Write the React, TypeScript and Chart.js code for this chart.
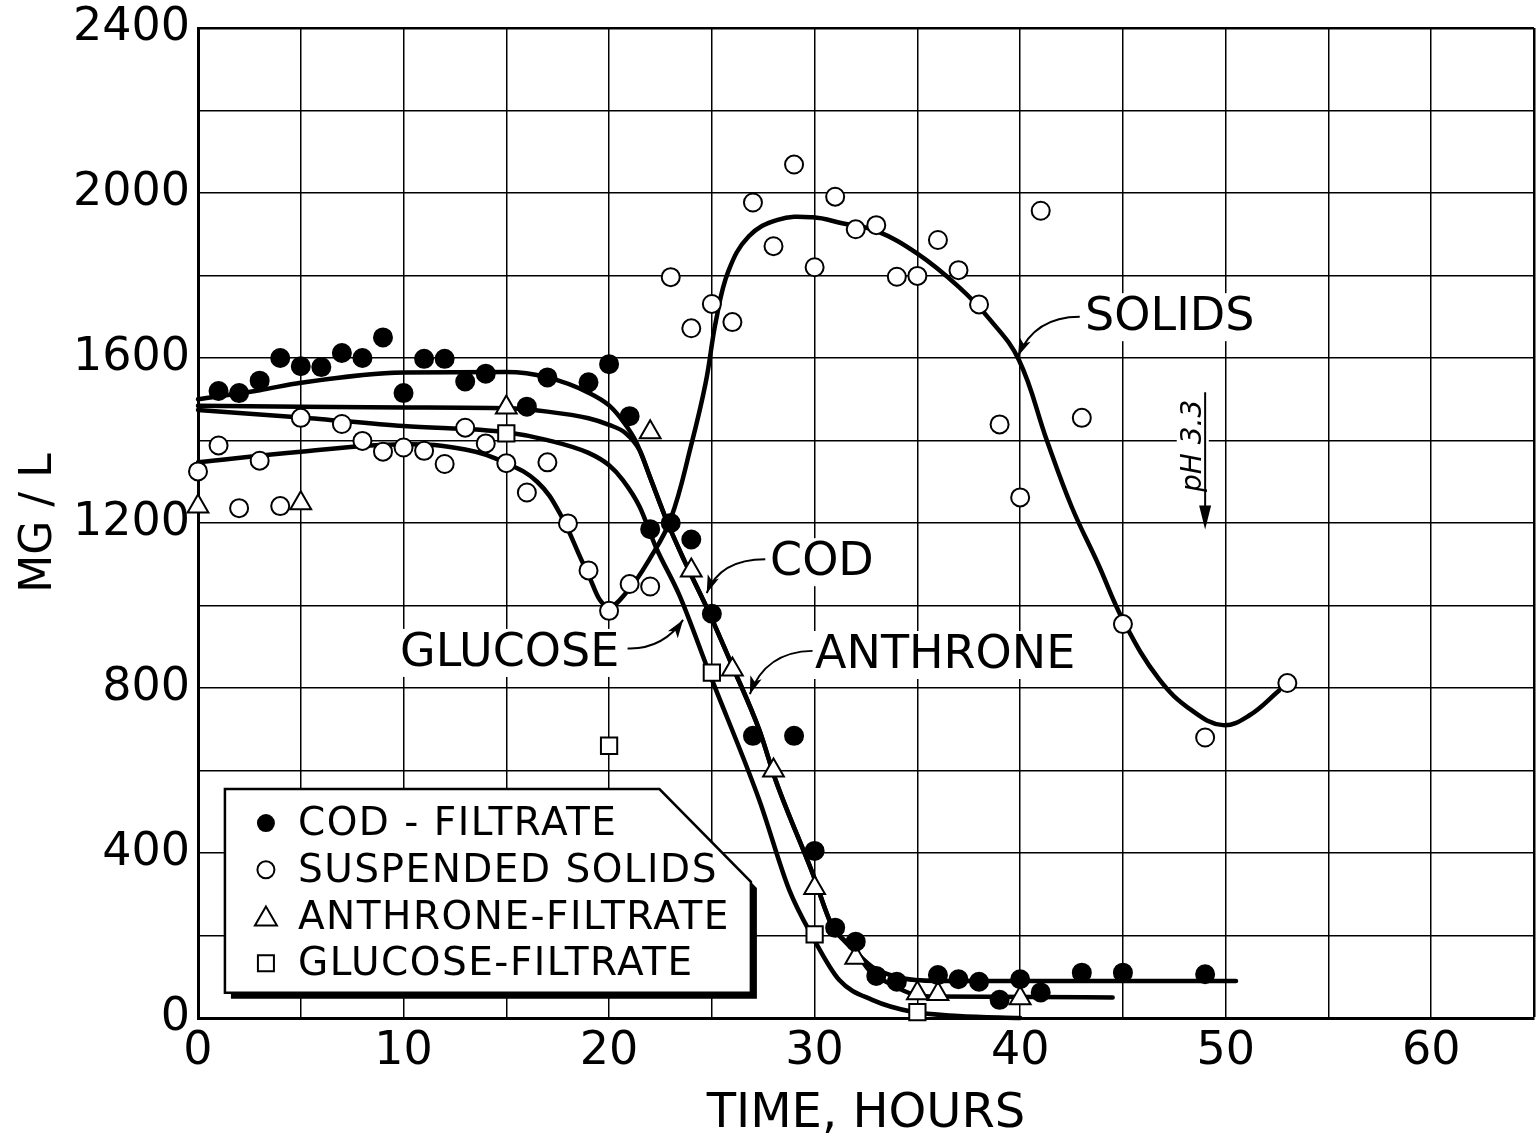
import { useEffect, useRef } from 'react';
import { Chart, registerables } from 'chart.js';

Chart.register(...registerables);

const FONT = "'DejaVu Sans', sans-serif";

// axes
const xMin = 0;
const xMax = 65;
const xStep = 5;
const xLabelEvery = 10;
const yMin = 0;
const yMax = 2400;
const yStep = 200;
const yLabelEvery = 400;
const xTitle = 'TIME, HOURS';
const yTitle = 'MG / L';

// measured points
const codHours = [1, 2, 3, 4, 5, 6, 7, 8, 9, 10, 11, 12, 13, 14, 16, 17, 19, 20, 21, 22, 23, 24, 25, 27, 29, 30, 31, 32, 33, 34, 36, 37, 38, 39, 40, 41, 43, 45, 49];
const codValues = [1520, 1515, 1545, 1600, 1580, 1578, 1612, 1600, 1650, 1515, 1598, 1598, 1543, 1562, 1482, 1553, 1541, 1585, 1459, 1185, 1200, 1160, 980, 684, 684, 405, 219, 185, 102, 88, 104, 94, 88, 44, 94, 62, 110, 110, 106];

const solidsHours = [0, 1, 2, 3, 4, 5, 7, 8, 9, 10, 11, 12, 13, 14, 15, 16, 17, 18, 19, 20, 21, 22, 23, 24, 25, 26, 27, 28, 29, 30, 31, 32, 33, 34, 35, 36, 37, 38, 39, 40, 41, 43, 45, 49, 53];
const solidsValues = [1325, 1388, 1236, 1351, 1241, 1455, 1440, 1399, 1373, 1383, 1375, 1343, 1431, 1393, 1345, 1274, 1347, 1199, 1085, 987, 1052, 1046, 1796, 1672, 1731, 1687, 1977, 1871, 2069, 1820, 1991, 1912, 1922, 1797, 1799, 1886, 1813, 1730, 1439, 1262, 1957, 1455, 955, 680, 812];

const anthroneHours = [0, 5, 15, 22, 24, 26, 28, 30, 32, 35, 36, 40];
const anthroneValues = [1240, 1248, 1480, 1420, 1085, 845, 600, 315, 146, 60, 58, 48];

const glucoseHours = [15, 20, 25, 30, 35];
const glucoseValues = [1417, 660, 837, 203, 14];

// hand-drawn fitted curves
const codCurveHours = [0, 3, 5, 10, 15, 17, 19, 20, 20.7, 21.3, 22, 22.85, 23.65, 24.88, 26.01, 27.31, 28.1, 29.9, 30.87, 31.4, 32, 32.8, 33.95, 34.9, 36, 50.5];
const codCurveValues = [1500, 1522, 1540, 1565, 1566, 1553, 1516, 1485, 1445, 1398, 1310, 1200, 1110, 981, 852, 698, 577, 351, 221, 190, 160, 124, 100, 92, 90, 90];

const anthroneCurveHours = [0, 5, 10, 15, 17, 19, 20, 20.8, 21.5, 22, 22.85, 23.65, 24.88, 26.01, 27.31, 28.1, 29.9, 30.87, 31.4, 32, 32.65, 33.62, 34.9, 36, 44.5];
const anthroneCurveValues = [1484, 1482, 1480, 1478, 1470, 1454, 1438, 1418, 1375, 1310, 1200, 1110, 981, 852, 698, 577, 351, 221, 190, 160, 116, 84, 56, 52, 50];

const glucoseCurveHours = [0, 5, 10, 15, 17, 19, 20, 20.67, 21.48, 22.29, 23.42, 24.88, 27.31, 28.77, 29.9, 31.2, 32.8, 34.76, 37, 40];
const glucoseCurveValues = [1474, 1456, 1435, 1420, 1401, 1370, 1340, 1304, 1240, 1140, 1025, 836, 528, 310, 197, 92, 44, 15, 5, 0];

const solidsCurveHours = [0, 5, 10, 13, 15, 16.5, 17.6, 18.9, 19.9, 20.9, 22, 23, 24, 24.7, 25.2, 25.8, 26.8, 28.2, 29.9, 31.4, 33, 35, 37, 38.5, 39.94, 41.3, 42.5, 43.8, 45, 46.75, 48.37, 49.87, 51.16, 52.6];
const solidsCurveValues = [1347, 1373, 1391, 1378, 1345, 1300, 1224, 1085, 997, 1035, 1115, 1210, 1390, 1540, 1690, 1810, 1895, 1935, 1941, 1926, 1908, 1853, 1773, 1695, 1595, 1400, 1240, 1100, 965, 822, 745, 710, 734, 794];

const legendNames = ['COD - FILTRATE', 'SUSPENDED SOLIDS', 'ANTHRONE-FILTRATE', 'GLUCOSE-FILTRATE'];
const legendSymbols = ['dot', 'circle', 'triangle', 'square'];

const curveLabels = ['SOLIDS', 'COD', 'GLUCOSE', 'ANTHRONE'];
// label anchor (left, middle) and arrow start/control/end, in data units
const curveLabelAnchors = [[43.16, 1699], [27.83, 1105], [9.83, 885], [30.02, 880]];
const curveLabelArrows = [
  [[42.9, 1700], [40.7, 1700], [39.9, 1605]],
  [[27.6, 1112], [25.4, 1112], [24.75, 1030]],
  [[20.9, 896], [22.6, 893], [23.6, 965]],
  [[29.9, 890], [27.6, 888], [26.85, 785]],
];
const phText = 'pH 3.3';
const phAnchor = [48.3, 1387];
const phArrow = [49, 1517, 1184];

// legend box in data units
const legendLeft = 1.31;
const legendRight = 26.9;
const legendTop = 555;
const legendBottom = 61;
const legendCutX = 22.45;
const legendCutY = 330;

const pts = (xs: number[], ys: number[]) => xs.map((x, i) => ({ x, y: ys[i] }));

function arrowHead(ctx: CanvasRenderingContext2D, x: number, y: number, fx: number, fy: number, len: number, half: number) {
  const a = Math.atan2(y - fy, x - fx);
  const c = Math.cos(a);
  const s = Math.sin(a);
  ctx.beginPath();
  ctx.moveTo(x, y);
  ctx.lineTo(x - len * c + half * s, y - len * s - half * c);
  ctx.lineTo(x - len * c * 0.75, y - len * s * 0.75);
  ctx.lineTo(x - len * c - half * s, y - len * s + half * c);
  ctx.closePath();
  ctx.fill();
}

function drawSymbol(ctx: CanvasRenderingContext2D, kind: string, x: number, y: number) {
  ctx.save();
  ctx.lineWidth = 2;
  ctx.strokeStyle = '#000';
  ctx.fillStyle = '#fff';
  ctx.beginPath();
  if (kind === 'dot') {
    ctx.arc(x, y, 9, 0, Math.PI * 2);
    ctx.fillStyle = '#000';
    ctx.fill();
  } else if (kind === 'circle') {
    ctx.arc(x, y, 8.5, 0, Math.PI * 2);
    ctx.fill();
    ctx.stroke();
  } else if (kind === 'triangle') {
    ctx.moveTo(x, y - 10);
    ctx.lineTo(x + 11, y + 9);
    ctx.lineTo(x - 11, y + 9);
    ctx.closePath();
    ctx.fill();
    ctx.stroke();
  } else {
    ctx.rect(x - 8, y - 8, 16, 16);
    ctx.fill();
    ctx.stroke();
  }
  ctx.restore();
}

const overlayPlugin = {
  id: 'overlay',
  afterDraw(chart: any) {
    const ctx: CanvasRenderingContext2D = chart.ctx;
    const xs = chart.scales.x;
    const ys = chart.scales.y;
    const px = (h: number) => xs.getPixelForValue(h);
    const py = (v: number) => ys.getPixelForValue(v);
    ctx.save();

    // curve labels
    ctx.font = `46px ${FONT}`;
    ctx.textBaseline = 'middle';
    ctx.textAlign = 'left';
    curveLabels.forEach((t, i) => {
      const [h, v] = curveLabelAnchors[i];
      const x = px(h);
      const y = py(v);
      const w = ctx.measureText(t).width;
      ctx.fillStyle = '#fff';
      ctx.fillRect(x - 4, y - 24, w + 8, 48);
      ctx.fillStyle = '#000';
      ctx.fillText(t, x, y + 1);
    });
    ctx.strokeStyle = '#000';
    ctx.fillStyle = '#000';
    ctx.lineWidth = 2;
    curveLabelArrows.forEach((arr) => {
      const [s, c, e] = arr;
      ctx.beginPath();
      ctx.moveTo(px(s[0]), py(s[1]));
      ctx.quadraticCurveTo(px(c[0]), py(c[1]), px(e[0]), py(e[1]));
      ctx.stroke();
      arrowHead(ctx, px(e[0]), py(e[1]), px(c[0]), py(c[1]), 18, 6);
    });

    // pH annotation
    const phx = px(phAnchor[0]);
    const phy = py(phAnchor[1]);
    ctx.save();
    ctx.translate(phx + 10, phy);
    ctx.rotate(-Math.PI / 2);
    ctx.font = `italic 28px ${FONT}`;
    ctx.textAlign = 'center';
    ctx.textBaseline = 'alphabetic';
    const pw = ctx.measureText(phText).width;
    ctx.fillStyle = '#fff';
    ctx.fillRect(-pw / 2 - 3, -24, pw + 6, 32);
    ctx.fillStyle = '#000';
    ctx.fillText(phText, 0, 0);
    ctx.restore();
    const ax = px(phArrow[0]);
    const ay1 = py(phArrow[1]);
    const ay2 = py(phArrow[2]);
    ctx.lineWidth = 2;
    ctx.beginPath();
    ctx.moveTo(ax, ay1);
    ctx.lineTo(ax, ay2 - 10);
    ctx.stroke();
    ctx.beginPath();
    ctx.moveTo(ax, ay2);
    ctx.lineTo(ax - 6, ay2 - 24);
    ctx.lineTo(ax + 6, ay2 - 24);
    ctx.closePath();
    ctx.fill();

    // legend box
    const L = px(legendLeft);
    const R = px(legendRight);
    const T = py(legendTop);
    const B = py(legendBottom);
    const CX = px(legendCutX);
    const CY = py(legendCutY);
    const shape = (dx: number, dy: number) => {
      ctx.beginPath();
      ctx.moveTo(L + dx, T + dy);
      ctx.lineTo(CX + dx, T + dy);
      ctx.lineTo(R + dx, CY + dy);
      ctx.lineTo(R + dx, B + dy);
      ctx.lineTo(L + dx, B + dy);
      ctx.closePath();
    };
    ctx.fillStyle = '#000';
    shape(6, 6);
    ctx.fill();
    ctx.fillStyle = '#fff';
    shape(0, 0);
    ctx.fill();
    ctx.lineWidth = 2.5;
    ctx.strokeStyle = '#000';
    ctx.stroke();

    ctx.font = `39px ${FONT}`;
    try { (ctx as any).letterSpacing = '1.5px'; } catch (e) { /* ignore */ }
    ctx.textBaseline = 'middle';
    ctx.textAlign = 'left';
    legendNames.forEach((name, i) => {
      const y = T + 34 + i * 46.7;
      drawSymbol(ctx, legendSymbols[i], L + 41, y);
      ctx.fillStyle = '#000';
      ctx.fillText(name, L + 73, y + 2);
    });
    try { (ctx as any).letterSpacing = '0px'; } catch (e) { /* ignore */ }
    ctx.restore();
  },
};

export default function App() {
  const ref = useRef<HTMLCanvasElement>(null);
  useEffect(() => {
    if (!ref.current) return;
    const markerBase = { showLine: false, order: 0, clip: false as any, pointBorderColor: '#000', pointBorderWidth: 2 };
    const curveBase = {
      showLine: true,
      pointRadius: 0,
      borderColor: '#000',
      borderWidth: 4.5,
      borderCapStyle: 'round' as const,
      borderJoinStyle: 'round' as const,
      cubicInterpolationMode: 'monotone' as const,
      fill: false,
      order: 1,
      clip: false as any,
    };
    const chart = new Chart(ref.current, {
      type: 'scatter',
      data: {
        datasets: [
          { ...markerBase, label: legendNames[0], data: pts(codHours, codValues), pointStyle: 'circle', pointRadius: 9, pointBackgroundColor: '#000' },
          { ...markerBase, label: legendNames[1], data: pts(solidsHours, solidsValues), pointStyle: 'circle', pointRadius: 9, pointBackgroundColor: '#fff' },
          { ...markerBase, label: legendNames[2], data: pts(anthroneHours, anthroneValues), pointStyle: 'triangle', pointRadius: 12, pointBackgroundColor: '#fff' },
          { ...markerBase, label: legendNames[3], data: pts(glucoseHours, glucoseValues), pointStyle: 'rect', pointRadius: 11.5, pointBackgroundColor: '#fff' },
          { ...curveBase, label: 'COD', data: pts(codCurveHours, codCurveValues) },
          { ...curveBase, label: 'ANTHRONE', data: pts(anthroneCurveHours, anthroneCurveValues) },
          { ...curveBase, label: 'GLUCOSE', data: pts(glucoseCurveHours, glucoseCurveValues) },
          { ...curveBase, label: 'SOLIDS', data: pts(solidsCurveHours, solidsCurveValues), cubicInterpolationMode: 'default', tension: 0.4 },
        ] as any,
      },
      options: {
        animation: false,
        responsive: true,
        maintainAspectRatio: false,
        events: [],
        layout: { autoPadding: false, padding: { left: 0, right: 3, top: 28, bottom: 0 } },
        plugins: { legend: { display: false }, tooltip: { enabled: false } },
        scales: {
          x: {
            type: 'linear',
            min: xMin,
            max: xMax,
            afterFit: (s: any) => { s.height = 125; s.paddingLeft = 0; s.paddingRight = 0; },
            ticks: {
              stepSize: xStep,
              autoSkip: false,
              maxRotation: 0,
              color: '#000',
              padding: 6,
              font: { family: FONT, size: 46 },
              callback: (v: any) => (Number(v) % xLabelEvery === 0 ? String(v) : ''),
            },
            grid: {
              color: '#000',
              drawTicks: false,
              lineWidth: (c: any) => (c.tick && c.tick.value === xMax ? 2.5 : 1.5),
            },
            border: { display: true, color: '#000', width: 3 },
            title: { display: true, text: xTitle, color: '#000', font: { family: FONT, size: 48 }, padding: { top: 0, bottom: 0 } },
          },
          y: {
            type: 'linear',
            min: yMin,
            max: yMax,
            afterFit: (s: any) => { s.width = 198; s.paddingTop = 0; s.paddingBottom = 0; },
            ticks: {
              stepSize: yStep,
              autoSkip: false,
              color: '#000',
              padding: 8,
              font: { family: FONT, size: 46 },
              callback: (v: any) => (Number(v) % yLabelEvery === 0 ? String(v) : ''),
            },
            grid: {
              color: '#000',
              drawTicks: false,
              lineWidth: (c: any) => (c.tick && c.tick.value === yMax ? 2.5 : 1.5),
            },
            border: { display: true, color: '#000', width: 3 },
            title: { display: true, text: yTitle, color: '#000', font: { family: FONT, size: 44 }, padding: { top: 13, bottom: 0 } },
          },
        },
      },
      plugins: [overlayPlugin],
    });
    return () => chart.destroy();
  }, []);
  return (
    <div style={{ position: 'fixed', left: 0, top: 0, width: 1537, height: 1143, background: '#fff' }}>
      <canvas ref={ref} />
    </div>
  );
}
